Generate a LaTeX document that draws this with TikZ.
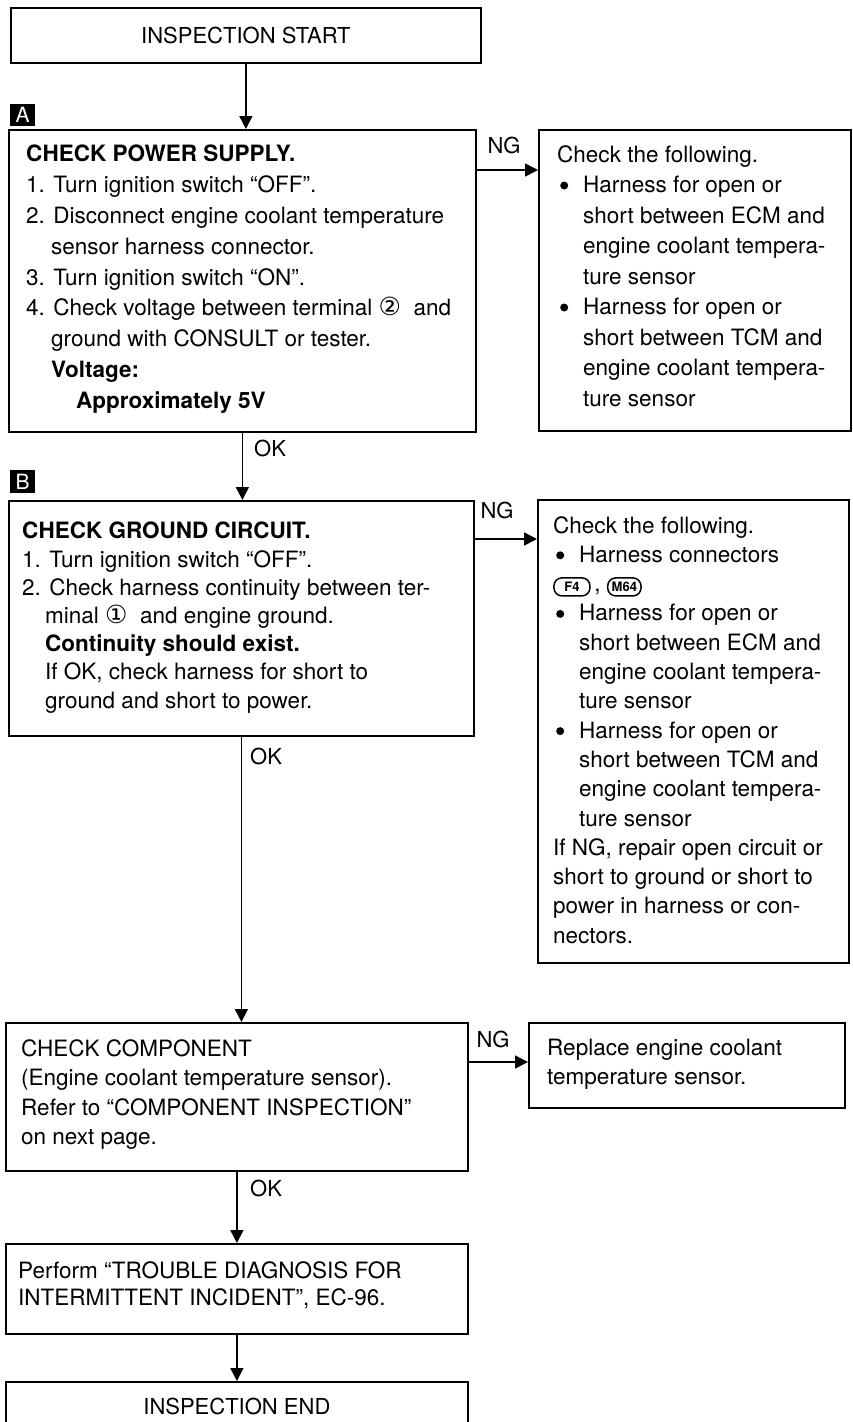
\documentclass[tikz,border=0pt]{standalone}
\usepackage{fontspec}
\setmainfont{TeX Gyre Heros}
\newfontfamily\dejavu{DejaVu Sans}
\usetikzlibrary{arrows.meta}
\newcommand{\conn}[3]{\tikz[baseline=(#1.base)]\node[draw,line width=1.5pt,rounded corners=8pt,minimum width=#3,minimum height=18pt,inner xsep=4pt,inner ysep=3pt,font=\bfseries\fontsize{13}{13}\selectfont] (#1) {#2};}
\newcommand{\cnum}[1]{{\dejavu\fontsize{25}{25}\selectfont #1}}
\newcommand{\bul}{\makebox[26pt][l]{\hspace{3pt}\tikz[baseline=-7pt]\fill (0,0) circle (4pt);}}
\newcommand{\ind}{\hspace*{26pt}}
\tikzset{
 box/.style={draw, line width=1.8pt, anchor=north west, inner sep=0pt},
 txt/.style={anchor=north west, inner sep=0pt, align=left},
 lbl/.style={inner sep=0pt, font=\fontsize{22}{22}\selectfont},
 arr/.style={line width=1.6pt, -{Triangle[length=13pt,width=13pt]}},
 marker/.style={fill=black, text=white, minimum width=25pt, minimum height=22pt, inner sep=0pt, font=\fontsize{21}{21}\selectfont, anchor=north west},
}
\begin{document}
\begin{tikzpicture}[x=1pt,y=-1pt]
\useasboundingbox (0,0) rectangle (853,1422);
\fill[white] (0,0) rectangle (853,1422);
\clip (0,0) rectangle (853,1422);
% start
\node[box, minimum width=470pt, minimum height=55pt] (start) at (10,7) {};
\node[lbl] (tstart) at (start.center) {INSPECTION START};
% A
\node[marker] (mA) at (10,104) {A};
\node[box, minimum width=467pt, minimum height=302pt] (A) at (8,129) {};
\draw[arr] (start.south) -- (start.south |- A.north);
\node[txt, font=\fontsize{22.5}{30.8}\selectfont] (tA) at (26,145) {\textbf{CHECK POWER SUPPLY.}\\
1. Turn ignition switch “OFF”.\\
2. Disconnect engine coolant temperature\\
\hspace*{25pt}sensor harness connector.\\
3. Turn ignition switch “ON”.\\
4. Check voltage between terminal \cnum{②}\ \ and\\
\hspace*{25pt}ground with CONSULT or tester.\\
\hspace*{25pt}\textbf{Voltage:}\\
\hspace*{50pt}\textbf{Approximately 5V}};
\node[box, minimum width=312pt, minimum height=301pt] (RA) at (538,129) {};
\node[txt, font=\fontsize{22.5}{30.5}\selectfont] (tRA) at (557,145) {Check the following.\\
\bul Harness for open or\\
\ind short between ECM and\\
\ind engine coolant tempera-\\
\ind ture sensor\\
\bul Harness for open or\\
\ind short between TCM and\\
\ind engine coolant tempera-\\
\ind ture sensor};
\node[lbl] (ngA) at (504,145) {NG};
\draw[arr] ([yshift=-41pt]A.north east) -- ([yshift=-41pt]A.north east -| RA.west);
% B
\node[marker, minimum height=23pt] (mB) at (10,470) {B};
\node[box, minimum width=465pt, minimum height=235pt] (B) at (8,500) {};
\draw[arr] (A.south) -- (A.south |- B.north);
\node[lbl, anchor=north west] (okA) at (254,440) {OK};
\node[txt, font=\fontsize{22.5}{28.2}\selectfont] (tB) at (22,522) {\textbf{CHECK GROUND CIRCUIT.}\\
1. Turn ignition switch “OFF”.\\
2. Check harness continuity between ter-\\
\hspace*{23pt}minal \cnum{①}\ \ and engine ground.\\
\hspace*{23pt}\textbf{Continuity should exist.}\\
\hspace*{23pt}If OK, check harness for short to\\
\hspace*{23pt}ground and short to power.};
\node[box, minimum width=311pt, minimum height=463pt] (RB) at (537,499) {};
\node[txt, font=\fontsize{22.5}{29.3}\selectfont] (tRB) at (553,516) {Check the following.\\
\bul Harness connectors\\
\conn{cF}{F4}{36pt}\,, \conn{cM}{M64}{31pt}\\
\bul Harness for open or\\
\ind short between ECM and\\
\ind engine coolant tempera-\\
\ind ture sensor\\
\bul Harness for open or\\
\ind short between TCM and\\
\ind engine coolant tempera-\\
\ind ture sensor\\
If NG, repair open circuit or\\
short to ground or short to\\
power in harness or con-\\
nectors.};
\node[lbl] (ngB) at (497,510) {NG};
\draw[arr] ([yshift=-39pt]B.north east) -- ([yshift=-39pt]B.north east -| RB.west);
% component check
\node[box, minimum width=462pt, minimum height=148pt] (CC) at (5,1022) {};
\draw[arr] (B.south) -- (B.south |- CC.north);
\node[lbl, anchor=north west] (okB) at (250,748) {OK};
\node[txt, font=\fontsize{22.5}{29.5}\selectfont] (tCC) at (21,1039) {CHECK COMPONENT\\
(Engine coolant temperature sensor).\\
Refer to “COMPONENT INSPECTION”\\
on next page.};
\node[box, minimum width=316pt, minimum height=85pt] (Rep) at (528,1022) {};
\node[txt, font=\fontsize{22.5}{28.5}\selectfont] (tRep) at (547,1039) {Replace engine coolant\\
temperature sensor.};
\node[lbl] (ngC) at (493,1039) {NG};
\draw[arr] ([yshift=-40pt]CC.north east) -- ([yshift=-40pt]CC.north east -| Rep.west);
% perform
\node[box, minimum width=462pt, minimum height=90pt] (P) at (5,1243) {};
\draw[arr] (CC.south) -- (CC.south |- P.north);
\node[lbl, anchor=north west] (okC) at (250,1180) {OK};
\node[txt, font=\fontsize{22.5}{27}\selectfont] (tP) at (18,1261) {Perform “TROUBLE DIAGNOSIS FOR\\
INTERMITTENT INCIDENT”, EC-96.};
% end
\node[box, minimum width=462pt, minimum height=100pt] (E) at (5,1381) {};
\draw[arr] (P.south) -- (P.south |- E.north);
\node[lbl] (tE) at ([yshift=-25pt]E.north) {INSPECTION END};
\end{tikzpicture}
\end{document}
